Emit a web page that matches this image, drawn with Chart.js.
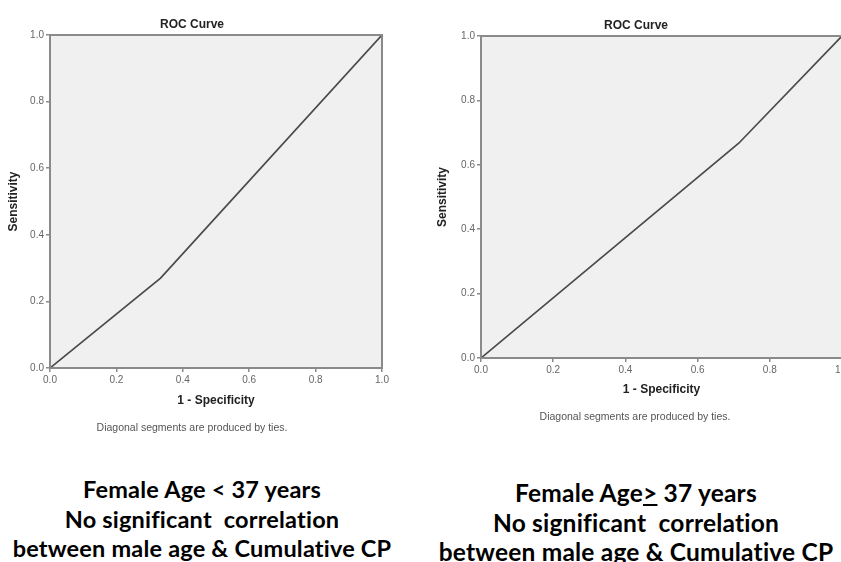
<!DOCTYPE html>
<html lang="en">
<head>
  <meta charset="UTF-8">
  <title>ROC Curves</title>
  <script src="https://cdn.jsdelivr.net/npm/chart.js"></script>
  <style>
    html, body { margin: 0; padding: 0; background: #fff; }
    body { width: 841px; height: 562px; position: relative; overflow: hidden; }
    canvas { position: absolute; top: 0; }
    #roc-left { left: 0; }
    #roc-right { left: 420px; }
    .caption {
      position: absolute; text-align: center;
      font-family: Lato, 'Noto Sans', sans-serif; font-weight: 700;
      color: #000; font-size: 23.5px; line-height: 29.5px; white-space: nowrap;
      letter-spacing: 0.2px;
    }
    #cap-left { left: 0; width: 404px; top: 475px; }
    #cap-right { left: 431px; width: 410px; top: 478px; font-size: 24.5px; }
  </style>
</head>
<body>
<canvas id="roc-left" width="420" height="440"></canvas>
<canvas id="roc-right" width="440" height="440"></canvas>

<div class="caption" id="cap-left">Female Age &lt; 37 years<br>No significant&nbsp; correlation<br>between male age &amp; Cumulative CP</div>
<div class="caption" id="cap-right">Female Age<u>&gt;</u> 37 years<br>No significant&nbsp; correlation<br>between male age &amp; Cumulative CP</div>

<script>
// ROC points (1 - specificity, sensitivity)
const leftFpr = [0, 0.333, 1];
const leftTpr = [0, 0.27, 1];
const rightFpr = [0, 0.714, 1];
const rightTpr = [0, 0.667, 1];
const tickValues = [0, 0.2, 0.4, 0.6, 0.8, 1.0];

const chartTitle = 'ROC Curve';
const footNote = 'Diagonal segments are produced by ties.';

const toPoints = (xs, ys) => xs.map((x, i) => ({x: x, y: ys[i]}));

// grey plot background, frame and the SPSS style texts
const rocDecor = {
  id: 'rocDecor',
  beforeDatasetsDraw(chart) {
    const {ctx, chartArea: a} = chart;
    ctx.save();
    ctx.fillStyle = '#f0f0f0';
    ctx.fillRect(a.left, a.top, a.right - a.left, a.bottom - a.top);
    ctx.restore();
  },
  afterDraw(chart, args, opts) {
    const {ctx, chartArea: a} = chart;
    ctx.save();
    ctx.strokeStyle = '#8a8a8a';
    ctx.lineWidth = 2;
    ctx.strokeRect(a.left, a.top, a.right - a.left, a.bottom - a.top);
    ctx.fillStyle = '#222';
    ctx.textAlign = 'center';
    ctx.textBaseline = 'middle';
    ctx.font = 'bold 12px "Liberation Sans", Arial, sans-serif';
    ctx.fillText(chartTitle, opts.titleX, opts.titleY);
    ctx.fillStyle = '#555';
    ctx.font = '10.5px "Liberation Sans", Arial, sans-serif';
    ctx.fillText(footNote, opts.noteX, opts.noteY);
    ctx.restore();
  }
};

function makeRoc(id, xs, ys, cfg) {
  const tickFont = {family: '"Liberation Sans", Arial, sans-serif', size: 10};
  const titleFont = {family: '"Liberation Sans", Arial, sans-serif', size: 12, weight: 'bold'};
  return new Chart(document.getElementById(id), {
    type: 'scatter',
    data: {
      datasets: [{
        data: toPoints(xs, ys),
        showLine: true,
        borderColor: '#4a4a4a',
        borderWidth: 1.7,
        pointRadius: 0,
        fill: false
      }]
    },
    options: {
      responsive: false,
      animation: false,
      layout: {padding: {left: 0, top: cfg.top, right: cfg.right, bottom: cfg.bottom}},
      plugins: {
        legend: {display: false},
        tooltip: {enabled: false},
        rocDecor: cfg.decor
      },
      scales: {
        x: {
          type: 'linear', min: 0, max: 1,
          afterBuildTicks: s => { s.ticks = tickValues.map(v => ({value: v})); },
          afterFit: s => { s.height = 50; },
          grid: {drawOnChartArea: false, drawTicks: true, tickLength: 4, color: '#8a8a8a', lineWidth: 1.5},
          border: {display: false},
          ticks: {font: tickFont, color: '#666', padding: 2, maxRotation: 0,
                  callback: v => Number(v).toFixed(1)},
          title: {display: true, text: '1 - Specificity', font: titleFont, color: '#222',
                  padding: {top: 0, bottom: cfg.xTitlePad}}
        },
        y: {
          type: 'linear', min: 0, max: 1,
          afterBuildTicks: s => { s.ticks = tickValues.map(v => ({value: v})); },
          afterFit: s => { s.width = cfg.yWidth; },
          grid: {drawOnChartArea: false, drawTicks: true, tickLength: 4, color: '#8a8a8a', lineWidth: 1.5},
          border: {display: false},
          ticks: {font: tickFont, color: '#666', padding: 2,
                  callback: v => Number(v).toFixed(1)},
          title: {display: true, text: 'Sensitivity', font: titleFont, color: '#222',
                  padding: {top: cfg.yTitlePad, bottom: 0}}
        }
      }
    },
    plugins: [rocDecor]
  });
}

makeRoc('roc-left', leftFpr, leftTpr, {
  top: 35, right: 38, bottom: 22, yWidth: 50, xTitlePad: 10, yTitlePad: 6,
  decor: {titleX: 192, titleY: 25, noteX: 192, noteY: 428}
});

makeRoc('roc-right', rightFpr, rightTpr, {
  top: 36, right: 18, bottom: 32, yWidth: 61, xTitlePad: 11, yTitlePad: 15,
  decor: {titleX: 216, titleY: 26, noteX: 215, noteY: 417}
});
</script>
</body>
</html>
